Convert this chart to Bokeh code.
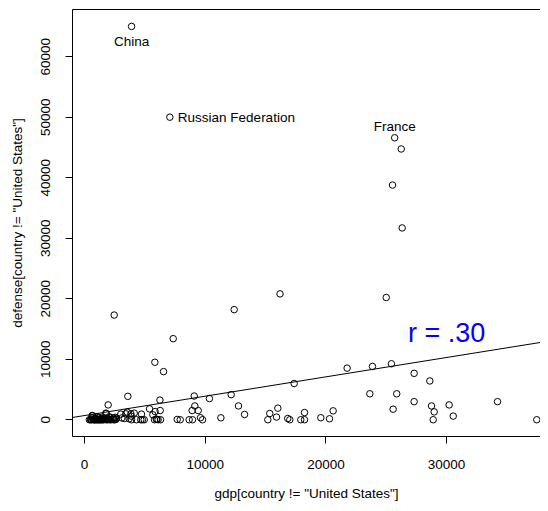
from bokeh.plotting import figure
from bokeh.models import (Range1d, FixedTicker, NumeralTickFormatter, LinearAxis,
                          Slope, ColumnDataSource)
from bokeh.core.properties import value
from bokeh.embed import file_html
from bokeh.resources import INLINE

# ---------------- data ----------------
gdp = [
    3900, 7070, 25700,
    26240, 25520, 26320, 25000, 16200, 12400, 2460, 7350, 5830, 6550,
    21760, 23860, 25430, 27310, 28610, 17370, 23640, 25870, 27310, 28750,
    30210, 34220, 25570, 28970, 30550, 28890, 37470,
    16020, 15350, 15910, 15190, 16840, 17010, 17920, 18230, 18230, 19580,
    20300, 20600,
    3590, 9090, 12150, 6250, 10350, 1960, 12760, 13260, 11300,
    9140, 9420, 8920, 9610, 9780, 8950, 8670, 7680, 7930,
    5390, 5850, 5660, 6270, 5800, 6000, 6100, 6300, 5950,
    4720, 3870, 3540, 3010, 4120, 1800, 1770, 640, 660,
    3900, 4300, 4800, 4660, 4950, 3420, 3840,
    400, 500, 550, 600, 700, 750, 800, 850, 900, 950, 1000, 1050,
    1100, 1150, 1200, 1250, 1300, 1350, 1400, 1450, 1500, 1600,
    1700, 1800, 1900, 2000, 2100, 2200, 2300, 2400, 2500, 2600,
    650, 900, 1150, 1400, 1650, 1900, 2150, 2400, 2650,
    1000, 1500, 2050, 2550, 3100, 3300, 3700,
]
defense = [
    65000, 50000, 46600,
    44750, 38780, 31700, 20200, 20800, 18200, 17300, 13400, 9500, 7950,
    8530, 8810, 9250, 7670, 6410, 5990, 4290, 4290, 2990, 2280,
    2450, 2990, 1740, 1300, 600, 0, 0,
    1910, 1030, 440, 0, 210, 0, 0, 0, 1190, 330,
    160, 1470,
    3870, 3920, 4150, 3250, 3500, 2450, 2280, 870, 320,
    2280, 1520, 1520, 330, 0, 0, 0, 50, 0,
    1800, 1350, 820, 1520, 0, 50, 0, 0, 100,
    930, 600, 1260, 930, 1090, 1030, 1090, 700, 650,
    0, 0, 0, 0, 0, 980, 980,
    0, 0, 50, 0, 100, 0, 0, 50, 0, 0, 100, 0,
    0, 50, 0, 0, 100, 0, 0, 50, 0, 0,
    100, 0, 0, 50, 0, 0, 100, 0, 0, 50,
    300, 250, 350, 200, 300, 250, 350, 300, 250,
    500, 450, 500, 400, 300, 200, 150,
]
label_names = ["China", "Russian Federation", "France"]
label_gdp = [3900, 7070, 25700]
label_def = [65000, 50000, 46600]

x_ticks = [0, 10000, 20000, 30000]
y_ticks = [0, 10000, 20000, 30000, 40000, 50000, 60000]

fit_intercept = 693
fit_slope = 0.3198
r_text = "r = .30"
r_pos = (30000, 14400)

x_title = 'gdp[country != "United States"]'
y_title = 'defense[country != "United States"]'

FONT = "Liberation Sans"

# ---------------- figure ----------------
p = figure(width=540, height=503, output_backend="svg", toolbar_location=None,
           x_range=Range1d(-994, 37780), y_range=Range1d(-2770, 67800),
           min_border_left=72, min_border_right=0, min_border_top=9,
           min_border_bottom=61)
p.background_fill_color = "white"
p.border_fill_color = "white"
p.outline_line_color = None
p.grid.visible = False

for ax, ticks in ((p.xaxis[0], x_ticks), (p.yaxis[0], y_ticks)):
    ax.ticker = FixedTicker(ticks=ticks)
    ax.formatter = NumeralTickFormatter(format="0")
    ax.minor_tick_line_color = None
    ax.major_tick_in = 0
    ax.major_tick_out = 7
    ax.axis_line_color = "black"
    ax.major_tick_line_color = "black"
    ax.major_label_text_font = FONT
    ax.major_label_text_font_size = "13.5px"
    ax.major_label_text_color = "black"
    ax.axis_label_text_font = FONT
    ax.axis_label_text_font_size = "13.5px"
    ax.axis_label_text_font_style = "normal"
    ax.axis_label_text_color = "black"

p.xaxis.axis_label = x_title
p.yaxis.axis_label = y_title
p.yaxis.major_label_orientation = "vertical"
p.xaxis.major_label_standoff = 16
p.xaxis.axis_label_standoff = 14
p.yaxis.major_label_standoff = 15
p.yaxis.axis_label_standoff = 14

top = LinearAxis(ticker=FixedTicker(ticks=[]), major_tick_out=0, major_tick_in=0,
                 minor_tick_line_color=None, major_label_text_font_size="0px",
                 axis_line_color="black")
p.add_layout(top, "above")

src = ColumnDataSource(dict(x=gdp, y=defense))
p.scatter("x", "y", source=src, size=6.5, fill_color=None, line_color="black",
          line_width=1)

p.add_layout(Slope(gradient=fit_slope, y_intercept=fit_intercept,
                   line_color="black", line_width=1))

# labels
p.text(x=[label_gdp[0]], y=[label_def[0]], text=[label_names[0]],
       text_font=value(FONT), text_font_size="13.5px", text_align="center",
       text_baseline="top", y_offset=8, text_color="black")
p.text(x=[label_gdp[1]], y=[label_def[1]], text=[label_names[1]],
       text_font=value(FONT), text_font_size="13.5px", text_align="left",
       text_baseline="middle", x_offset=8, text_color="black")
p.text(x=[label_gdp[2]], y=[label_def[2]], text=[label_names[2]],
       text_font=value(FONT), text_font_size="13.5px", text_align="center",
       text_baseline="bottom", y_offset=-4, text_color="black")

p.text(x=[r_pos[0]], y=[r_pos[1]], text=[r_text], text_font=value(FONT),
       text_font_size="27px", text_align="center", text_baseline="middle",
       text_color="#0000FF")

open("out.html", "w").write(file_html(p, INLINE))
